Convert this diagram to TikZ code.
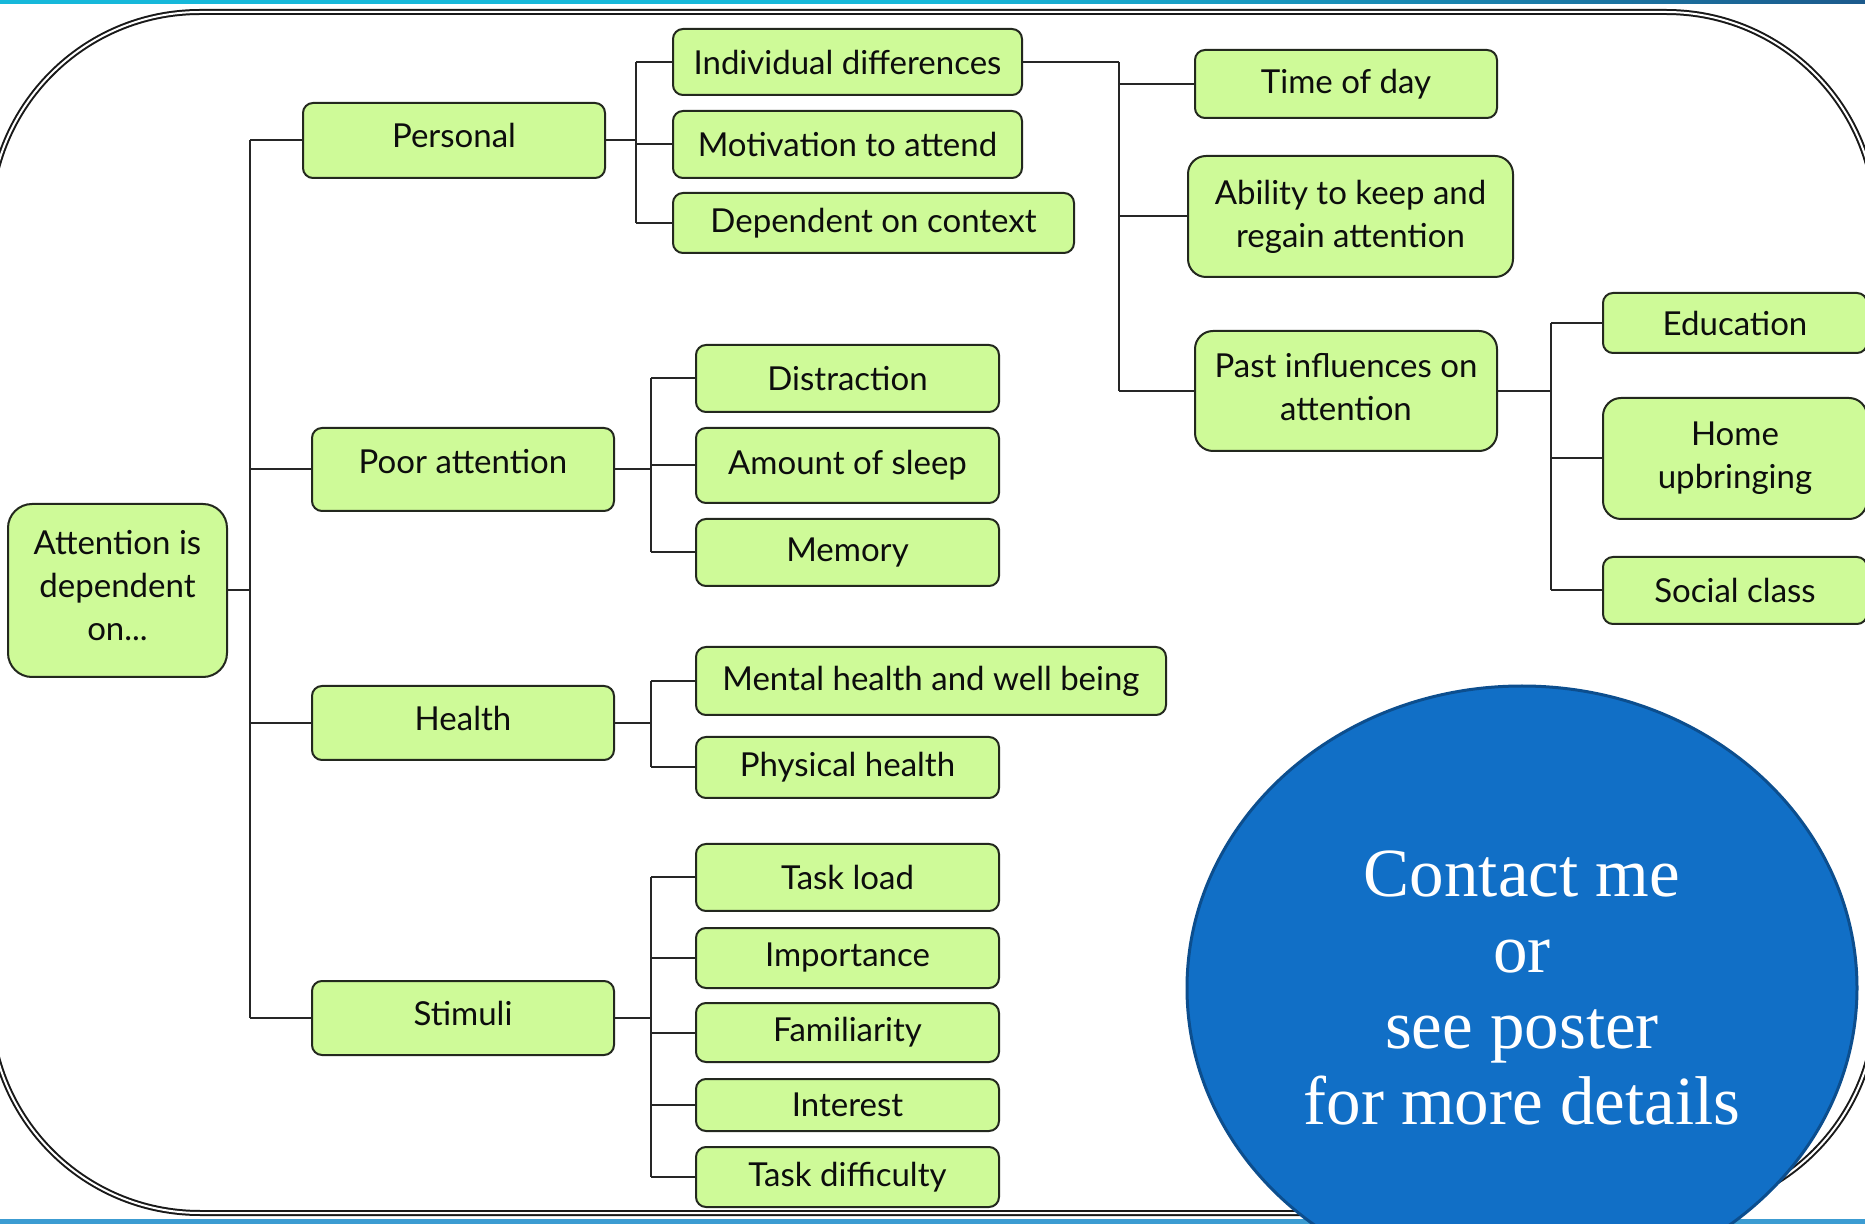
\documentclass[tikz,border=0pt]{standalone}
\usepackage{fontspec}
\usetikzlibrary{shapes.geometric}
\newfontfamily\boxfont{Lato}
\newfontfamily\circfont{Liberation Serif}
\definecolor{boxgreen}{RGB}{206,250,152}
\definecolor{boxline}{RGB}{35,40,30}
\definecolor{circblue}{RGB}{17,111,198}
\definecolor{circline}{RGB}{12,78,142}
\definecolor{bandcyan}{RGB}{22,184,218}
\definecolor{banddark}{RGB}{28,90,140}
\definecolor{bandlow}{RGB}{60,156,210}
\tikzset{
  box/.style={draw=boxline, line width=1pt, fill=boxgreen, rounded corners=5pt,
    align=center, inner sep=0pt, text=black!95,
    font=\boxfont\fontsize{16.5}{21.5}\selectfont},
  lift/.style={text depth=#1},
  conn/.style={draw=black!85, line width=1pt},
  frame/.style={draw=black!90, double=white, line width=1pt, double distance=1pt, rounded corners=105pt},
}
\begin{document}
\begin{tikzpicture}[x=0.5pt,y=-0.5pt]
\useasboundingbox (0,0) rectangle (1865,1224);
\clip (0,0) rectangle (1865,1224);
\fill[white] (0,0) rectangle (1865,1224);
% bands
\shade[left color=bandcyan, right color=banddark, middle color=bandcyan] (0,0) rectangle (1865,4);
\fill[bandlow] (0,1219) rectangle (1865,1224);
% frame
\draw[frame] (-10,12) rectangle (1876,1213);
% bus coordinates
\coordinate (b0) at (250,0);
\coordinate (b1) at (636,0);
\coordinate (b2) at (651,0);
\coordinate (b3) at (1119,0);
\coordinate (b4) at (1551,0);
% nodes
\node[box, lift=5pt, rounded corners=12pt, minimum width=109.5pt, minimum height=86.5pt] (root) at (117.5,590.5) {Attention is\\dependent\\on...};
\node[box, lift=5pt, minimum width=151pt, minimum height=37.5pt] (personal) at (454,140.5) {Personal};
\node[box, lift=8pt, minimum width=151pt, minimum height=41.5pt] (poor) at (463,469.5) {Poor attention};
\node[box, lift=5pt, minimum width=151pt, minimum height=37pt] (health) at (463,723) {Health};
\node[box, lift=5pt, minimum width=151pt, minimum height=37pt] (stimuli) at (463,1018) {Stimuli};
\node[box, minimum width=174.5pt, minimum height=33pt] (indiv) at (847.5,62) {Individual differences};
\node[box, minimum width=174.5pt, minimum height=33.5pt] (motiv) at (847.5,144.5) {Motivation to attend};
\node[box, minimum width=200.5pt, minimum height=30pt] (context) at (873.5,223) {Dependent on context};
\node[box, minimum width=151.5pt, minimum height=33.5pt] (distr) at (847.5,378.5) {Distraction};
\node[box, minimum width=151.5pt, minimum height=37.5pt] (sleep) at (847.5,465.5) {Amount of sleep};
\node[box, minimum width=151.5pt, minimum height=33.5pt] (memory) at (847.5,552.5) {Memory};
\node[box, minimum width=235pt, minimum height=34pt] (mental) at (931,681) {Mental health and well being};
\node[box, minimum width=151.5pt, minimum height=30.5pt] (physical) at (847.5,767.5) {Physical health};
\node[box, minimum width=151.5pt, minimum height=33.5pt] (taskload) at (847.5,877.5) {Task load};
\node[box, minimum width=151.5pt, minimum height=30pt] (importance) at (847.5,958) {Importance};
\node[box, minimum width=151.5pt, minimum height=29.5pt] (familiar) at (847.5,1032.5) {Familiarity};
\node[box, minimum width=151.5pt, minimum height=26pt] (interest) at (847.5,1105) {Interest};
\node[box, minimum width=151.5pt, minimum height=30pt] (taskdiff) at (847.5,1177) {Task difficulty};
\node[box, minimum width=151pt, minimum height=34pt] (timeday) at (1346,84) {Time of day};
\node[box, rounded corners=9pt, minimum width=162.5pt, minimum height=60.5pt] (ability) at (1350.5,216.5) {Ability to keep and\\regain attention};
\node[box, lift=4pt, rounded corners=9pt, minimum width=151pt, minimum height=60pt] (past) at (1346,391) {Past influences on\\attention};
\node[box, minimum width=132pt, minimum height=30pt] (educ) at (1735,323) {Education};
\node[box, rounded corners=9pt, minimum width=132pt, minimum height=60.5pt] (home) at (1735,458.5) {Home\\upbringing};
\node[box, minimum width=132pt, minimum height=33.5pt] (social) at (1735,590.5) {Social class};
% connectors
\draw[conn] (root.east) -- (root.east -| b0);
\draw[conn] (b0 |- personal.west) -- (b0 |- stimuli.west);
\foreach \n in {personal,poor,health,stimuli} {\draw[conn] (b0 |- \n.west) -- (\n.west);}
\draw[conn] (personal.east) -- (personal.east -| b1);
\draw[conn] (b1 |- indiv.west) -- (b1 |- context.west);
\foreach \n in {indiv,motiv,context} {\draw[conn] (b1 |- \n.west) -- (\n.west);}
\draw[conn] (poor.east) -- (poor.east -| b2);
\draw[conn] (b2 |- distr.west) -- (b2 |- memory.west);
\foreach \n in {distr,sleep,memory} {\draw[conn] (b2 |- \n.west) -- (\n.west);}
\draw[conn] (health.east) -- (health.east -| b2);
\draw[conn] (b2 |- mental.west) -- (b2 |- physical.west);
\foreach \n in {mental,physical} {\draw[conn] (b2 |- \n.west) -- (\n.west);}
\draw[conn] (stimuli.east) -- (stimuli.east -| b2);
\draw[conn] (b2 |- taskload.west) -- (b2 |- taskdiff.west);
\foreach \n in {taskload,importance,familiar,interest,taskdiff} {\draw[conn] (b2 |- \n.west) -- (\n.west);}
\draw[conn] (indiv.east) -- (indiv.east -| b3);
\draw[conn] (b3 |- indiv.east) -- (b3 |- past.west);
\foreach \n in {timeday,ability,past} {\draw[conn] (b3 |- \n.west) -- (\n.west);}
\draw[conn] (past.east) -- (past.east -| b4);
\draw[conn] (b4 |- educ.west) -- (b4 |- social.west);
\foreach \n in {educ,home,social} {\draw[conn] (b4 |- \n.west) -- (\n.west);}
% circle
\node[ellipse, draw=circline, line width=1.5pt, fill=circblue, inner sep=0pt,
  minimum width=335pt, minimum height=302pt, text=white, align=center,
  font=\circfont\fontsize{34.5}{38}\selectfont] (contact) at (1522,988)
  {Contact me\\or\\see poster\\for more details};
\end{tikzpicture}
\end{document}
